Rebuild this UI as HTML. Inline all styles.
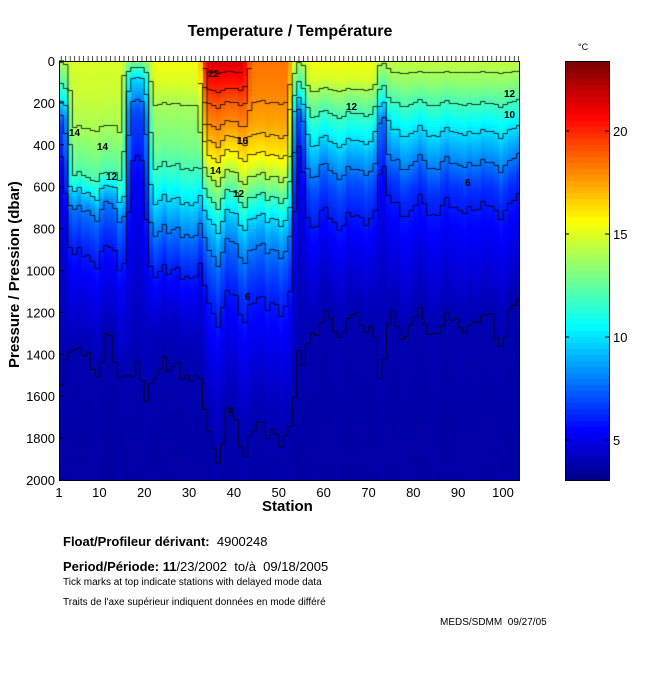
<!DOCTYPE html>
<html><head><meta charset="utf-8"><style>
body{margin:0;background:#fff;width:650px;height:680px;position:relative;font-family:"Liberation Sans",sans-serif;overflow:hidden}
.t{position:absolute;white-space:nowrap;color:#000}
canvas{position:absolute}
</style></head><body>
<div class="t" style="left:0;width:580px;text-align:center;top:23px;font-size:16px;font-weight:bold">Temperature / Température</div>
<div class="t" style="left:578px;top:42px;font-size:9px">°C</div>
<canvas id="c" width="460" height="419" style="left:59px;top:61px"></canvas>
<canvas id="cb" width="44" height="419" style="left:565px;top:61px"></canvas>
<svg width="650" height="680" style="position:absolute;left:0;top:0" id="s"></svg>
<div class="t" style="font-size:15px;font-weight:bold;transform:rotate(-90deg);transform-origin:0 0;top:368px;left:6px">Pressure / Pression (dbar)</div>
<div class="t" style="left:262px;top:498px;font-size:15px;font-weight:bold">Station</div>
<div class="t" style="left:63px;top:534px;font-size:13px"><b>Float/Profileur dérivant:</b>&nbsp; 4900248</div>
<div class="t" style="left:63px;top:559px;font-size:13px"><b>Period/Période: 11</b>/23/2002&nbsp; to/à&nbsp; 09/18/2005</div>
<div class="t" style="left:63px;top:577px;font-size:10px">Tick marks at top indicate stations with delayed mode data</div>
<div class="t" style="left:63px;top:597px;font-size:10px">Traits de l'axe supérieur indiquent données en mode différé</div>
<div class="t" style="left:440px;top:617px;font-size:10px">MEDS/SDMM&nbsp; 09/27/05</div>
<script>
function jet(v){v=Math.max(0,Math.min(1,v));function c(x){return Math.max(0,Math.min(1,1.5-Math.abs(x)));}
return [c(4*v-3),c(4*v-2),c(4*v-1)].map(x=>Math.round(x*255));}
const TMIN=3.0,TMAX=23.4;
const P={A:[[0,15],[150,14.7],[320,14],[450,13],[560,12],[620,10],[700,8],[850,6.5],[1000,5.5],[1200,4.7],[1350,4],[2000,3.7]],
B:[[0,13],[80,10],[250,7],[600,5.5],[1000,4.8],[1400,4.1],[2000,3.7]],
C:[[0,15.5],[100,15],[200,14],[400,13],[550,11.5],[700,9.5],[850,7.5],[1000,6],[1150,5],[1300,4.1],[2000,3.7]],
D:[[0,18.5],[150,18.2],[300,17.5],[450,16],[550,14],[650,12],[750,10],[850,8.5],[1000,7],[1150,6],[1400,5],[1650,4.1],[2000,3.8]],
R:[[0,21.5],[100,20.5],[200,19],[300,18],[450,16],[550,14],[650,12],[750,10],[850,8.5],[1000,7],[1150,6],[1400,5],[1650,4.1],[2000,3.8]],
E:[[0,14],[150,11],[280,7],[600,5],[1000,4.3],[2000,3.7]],
F:[[0,15.5],[80,15],[160,13.5],[250,12],[350,10.5],[450,9],[600,7],[750,6],[950,5],[1200,4],[2000,3.7]],
H:[[0,14.5],[100,13.5],[200,12],[300,10.5],[450,8.5],[600,6.5],[800,5.5],[1050,4.6],[1200,4],[2000,3.7]]};
const cw=4.485,N=103,W=460,H=419;
function prof(s){if(s<=2)return P.E;if(s<=15)return P.A;if(s<=20)return P.B;if(s<=32)return P.C;if(s<=42)return P.R;if(s<=52)return P.D;if(s<=55)return P.E;if(s<=71)return P.F;if(s<=73)return P.E;return P.H;}
function T0(s,p){s=Math.max(1,Math.min(N,s));const a=prof(s);const k=1+0.07*Math.sin(s*2.3)+0.05*Math.sin(s*0.9+1)+0.04*Math.sin(s*5.1);p=p/k;
for(let i=1;i<a.length;i++){if(p<=a[i][0]){const f=(p-a[i-1][0])/(a[i][0]-a[i-1][0]);return a[i-1][1]+f*(a[i][1]-a[i-1][1]);}}return a[a.length-1][1];}
function T(s,p){return 0.2*T0(s-1,p)+0.6*T0(s,p)+0.2*T0(s+1,p);}
const cx=document.getElementById('c').getContext('2d');
for(let s=1;s<=N;s++){const x0=Math.round((s-1)*cw),x1=Math.round(s*cw);
 for(let y=0;y<H;y+=3){const p=y/H*2000;const t=T(s,p);const c=jet((t-TMIN)/(TMAX-TMIN));cx.fillStyle=`rgb(${c})`;cx.fillRect(x0,y,x1-x0,3);}}
cx.fillStyle=`rgb(${jet((3.8-TMIN)/(TMAX-TMIN))})`;cx.fillRect(Math.round(N*cw),0,W,H);
cx.strokeStyle='#000';cx.lineWidth=0.8;
for(let L=4;L<=22;L+=1){if(L==5||L==7||L==9||L==11||L==13||L==15)continue;cx.beginPath();let prev=null;
 for(let s=1;s<=N;s++){let yy=null;for(let y=0;y<H;y++){if(T(s,y/H*2000)<L){yy=y;break;}}
  const x0=(s-1)*cw,x1=s*cw;
  if(yy===null||yy===0){prev=null;continue;}
  if(prev===null)cx.moveTo(x0,yy+.5);else cx.lineTo(x0,yy+.5);cx.lineTo(x1,yy+.5);prev=yy;}
 cx.stroke();}
const cb=document.getElementById('cb').getContext('2d');
for(let y=0;y<H;y+=6){const t=TMAX-(y/H)*(TMAX-TMIN);const c=jet((t-TMIN)/(TMAX-TMIN));cb.fillStyle=`rgb(${c})`;cb.fillRect(0,y,44,6);}
let s='<rect x="59.5" y="61.5" width="460" height="419" fill="none" stroke="#000"/><rect x="565.5" y="61.5" width="44" height="419" fill="none" stroke="#000"/>';
for(let p=0;p<=2000;p+=200){const y=61+p/2000*419;s+=`<line x1="59" y1="${y}" x2="64" y2="${y}" stroke="#000"/><text x="55" y="${y+5}" font-size="13" text-anchor="end" font-family="Liberation Sans">${p}</text>`;}
[1,10,20,30,40,50,60,70,80,90,100].forEach(n=>{const x=59+(n-1)*cw;s+=`<text x="${x}" y="497" font-size="13" text-anchor="middle" font-family="Liberation Sans">${n}</text>`;});
for(let n=1;n<=103;n++){const x=59+(n-0.5)*cw;s+=`<line x1="${x}" y1="56" x2="${x}" y2="61" stroke="#000" stroke-width="0.7"/>`;}
[[20,131],[15,234],[10,337],[5,440]].forEach(([v,y])=>{s+=`<line x1="565" y1="${y}" x2="569" y2="${y}" stroke="#000"/><line x1="605" y1="${y}" x2="609" y2="${y}" stroke="#000"/><text x="613" y="${y+5}" font-size="13" font-family="Liberation Sans">${v}</text>`;});
[[69,136,"14"],[97,150,"14"],[106,180,"12"],[237,144,"16"],[210,174,"14"],[233,197,"12"],[346,110,"12"],[465,186,"6"],[504,118,"10"],[504,97,"12"],[245,300,"6"],[228,414,"4"],[208,77,"22"]].forEach(([x,y,t])=>{s+=`<text x="${x}" y="${y}" font-size="10" font-weight="bold" font-family="Liberation Sans">${t}</text>`;});
document.getElementById('s').innerHTML=s;
</script>
</body></html>
